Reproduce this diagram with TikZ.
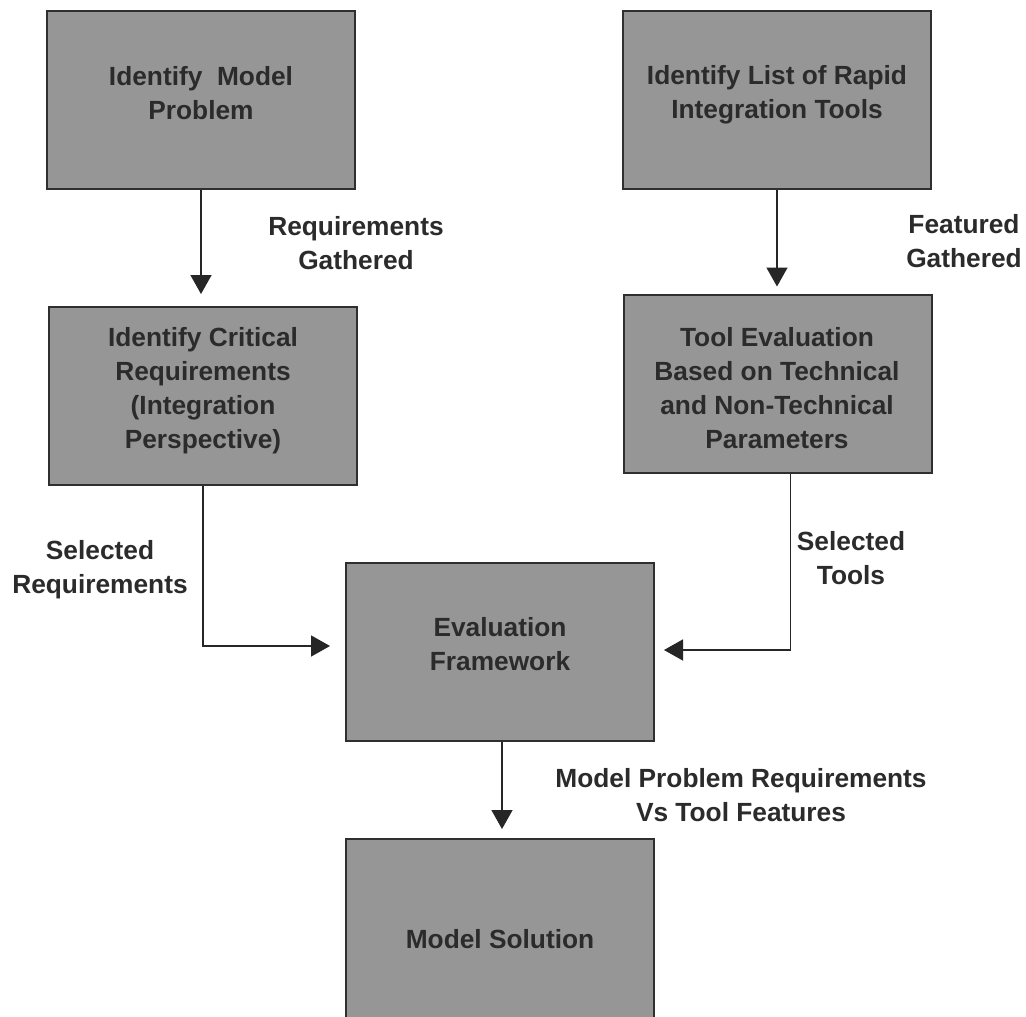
\documentclass[tikz,border=0pt]{standalone}
\usepackage{fontspec}
\setmainfont{Liberation Sans}
\usetikzlibrary{arrows.meta}
\definecolor{boxfill}{HTML}{969696}
\definecolor{boxline}{HTML}{2F2F2F}
\definecolor{txtcol}{HTML}{2B2B2B}
\definecolor{linecol}{HTML}{262626}
\begin{document}
\begin{tikzpicture}[x=1pt,y=-1pt,
  procbox/.style={draw=boxline,fill=boxfill,line width=2pt,rectangle,inner sep=0pt,minimum width=308pt,minimum height=178pt},
  txt/.style={align=center,text=txtcol,inner sep=0pt,font=\fontsize{26.3}{34}\selectfont\bfseries},
  arr/.style={draw=linecol,line width=1.6pt,-{Triangle[length=19pt,width=21pt]}}]
\useasboundingbox (0,0) rectangle (1026,1017);
\fill[white] (0,0) rectangle (1026,1017);
% boxes
\node[procbox] (b1) at (201,100) {};
\node[procbox] (b3) at (777,100) {};
\node[procbox] (b2) at (203,396) {};
\node[procbox] (b4) at (777.5,383.5) {};
\node[procbox] (b5) at (500,651.5) {};
\node[procbox,minimum height=200pt] (b6) at (500,939) {};
% box texts
\node[txt] (t1) at (201,95.2) {\strut Identify\ \ Model\\Problem\strut};
\node[txt] (t3) at (777,94.7) {\strut Identify List of Rapid\\Integration Tools\strut};
\node[txt] (t2) at (203,390.2) {\strut Identify Critical\\Requirements\\(Integration\\Perspective)\strut};
\node[txt] (t4) at (777,390.7) {\strut Tool Evaluation\\Based on Technical\\and Non-Technical\\Parameters\strut};
\node[txt] (t5) at (500,646.2) {\strut Evaluation\\Framework\strut};
\node[txt] (t6) at (500,941.2) {\strut Model Solution};
% connectors
\draw[arr,shorten >=12pt] (b1.south) -- (b1.south |- b2.north);
\draw[arr,shorten >=7pt] (b3.south) -- (b3.south |- b4.north);
\draw[arr,shorten >=15pt] (b2.south) |- ([yshift=5.5pt]b5.west);
\draw[arr,shorten >=9pt] ([xshift=13pt]b4.south) |- ([yshift=1.5pt]b5.east);
\draw[arr,shorten >=9pt] ([xshift=2pt]b5.south) -- ([xshift=2pt]b6.north);
% connector labels
\node[txt] (l1) at (356,245.5) {\strut Requirements\\Gathered\strut};
\node[txt] (l2) at (964,243.7) {\strut Featured\\Gathered\strut};
\node[txt] (l3) at (100,569.2) {\strut Selected\\Requirements\strut};
\node[txt] (l4) at (851,560.7) {\strut Selected\\Tools\strut};
\node[txt] (l5) at (741,797.7) {\strut Model Problem Requirements\\Vs Tool Features\strut};
\end{tikzpicture}
\end{document}
